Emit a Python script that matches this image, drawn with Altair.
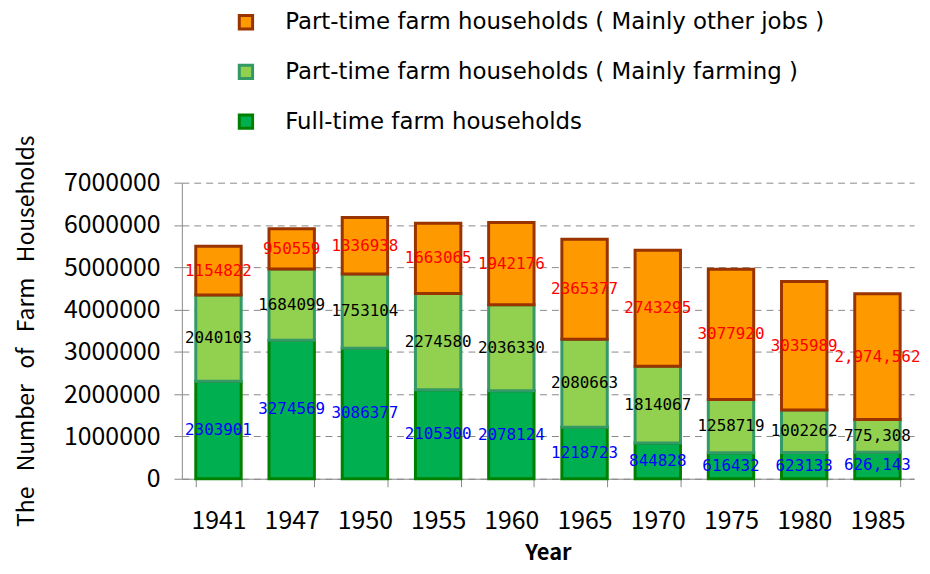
import altair as alt
import pandas as pd

years = ["1941", "1947", "1950", "1955", "1960", "1965", "1970", "1975", "1980", "1985"]
full_time = [2303901, 3274569, 3086377, 2105300, 2078124, 1218723, 844828, 616432, 623133, 626143]
mainly_farming = [2040103, 1684099, 1753104, 2274580, 2036330, 2080663, 1814067, 1258719, 1002262, 775308]
mainly_other = [1154822, 950559, 1336938, 1663065, 1942176, 2365377, 2743295, 3077920, 3035989, 2974562]
comma_years = ["1985"]

series = [
    "Part-time farm households ( Mainly other jobs )",
    "Part-time farm households ( Mainly farming )",
    "Full-time farm households",
]
fills = ["#FF9900", "#92D050", "#00B050"]
strokes = ["#993300", "#339966", "#008000"]
label_colors = ["#FF0000", "#000000", "#0000FF"]

# stacking order: full-time at bottom, drawn first
stack_values = [full_time, mainly_farming, mainly_other]
stack_series = [series[2], series[1], series[0]]
stack_label_colors = [label_colors[2], label_colors[1], label_colors[0]]

rows = []
for k, (vals, s, lc) in enumerate(zip(stack_values, stack_series, stack_label_colors)):
    for y, v in zip(years, vals):
        txt = f"{v:,}" if y in comma_years else str(v)
        rows.append({"year": y, "series": s, "value": v, "order": k, "lc": lc, "txt": txt})
df = pd.DataFrame(rows)

FONT = "Noto Sans CJK JP"
LEGEND_FONT = "DejaVu Sans"
LABEL_FONT = "DejaVu Sans Mono"

x_enc = alt.X(
    "year:N",
    sort=years,
    scale=alt.Scale(paddingInner=0.38, paddingOuter=0.19),
    axis=alt.Axis(
        title="Year",
        labelAngle=0,
        tickBand="extent",
        tickSize=8,
        tickColor="#888888",
        domainColor="#888888",
        labelFont=FONT,
        labelFontSize=25,
        labelColor="#000000",
        labelPadding=22,
        titleFont=FONT,
        titleFontSize=22,
        titleFontWeight="bold",
        titleColor="#000000",
        titlePadding=9,
        grid=False,
    ),
)

legend = alt.Legend(
    title=None,
    orient="none",
    legendX=53,
    legendY=-173,
    symbolType="square",
    symbolSize=180,
    symbolStrokeWidth=3,
    labelFont=LEGEND_FONT,
    labelFontSize=23,
    labelColor="#000000",
    labelOffset=28,
    rowPadding=23,
    labelLimit=700,
    padding=0,
)

bars = alt.Chart(df).mark_bar(strokeWidth=3).encode(
    x=x_enc,
    y=alt.Y(
        "value:Q",
        stack="zero",
        scale=alt.Scale(domain=[0, 7000000], nice=False),
        axis=alt.Axis(
            title="The\u00a0\u00a0 Number\u00a0\u00a0 of\u00a0\u00a0 Farm\u00a0\u00a0 Households",
            values=[0, 1000000, 2000000, 3000000, 4000000, 5000000, 6000000, 7000000],
            format="d",
            tickSize=8,
            tickColor="#888888",
            domainColor="#888888",
            grid=True,
            gridDash=[7, 5],
            gridColor="#888888",
            labelFont=FONT,
            labelFontSize=25,
            labelColor="#000000",
            labelPadding=14,
            titleFont=FONT,
            titleFontSize=23,
            titleFontWeight="normal",
            titleColor="#000000",
            titlePadding=25,
        ),
    ),
    fill=alt.Fill("series:N", scale=alt.Scale(domain=series, range=fills), legend=legend),
    stroke=alt.Stroke("series:N", scale=alt.Scale(domain=series, range=strokes), legend=legend),
    order=alt.Order("order:Q"),
)

labels = (
    alt.Chart(df)
    .transform_stack(
        stack="value",
        groupby=["year"],
        as_=["y0", "y1"],
        sort=[alt.SortField("order", order="ascending")],
    )
    .transform_calculate(mid="(datum.y0 + datum.y1) / 2")
    .mark_text(font=LABEL_FONT, fontSize=16, baseline="middle", align="center")
    .encode(
        x=alt.X("year:N", sort=years),
        y=alt.Y("mid:Q"),
        text="txt:N",
        color=alt.Color("lc:N", scale=None),
    )
)

chart = (
    alt.layer(bars, labels)
    .properties(
        width=737,
        height=298,
        autosize=alt.AutoSizeParams(type="none"),
        padding={"left": 175, "top": 174, "right": 8, "bottom": 86},
    )
    .configure_view(stroke=None)
)

chart.save("out.html", embed_options={"renderer": "svg", "actions": False})
